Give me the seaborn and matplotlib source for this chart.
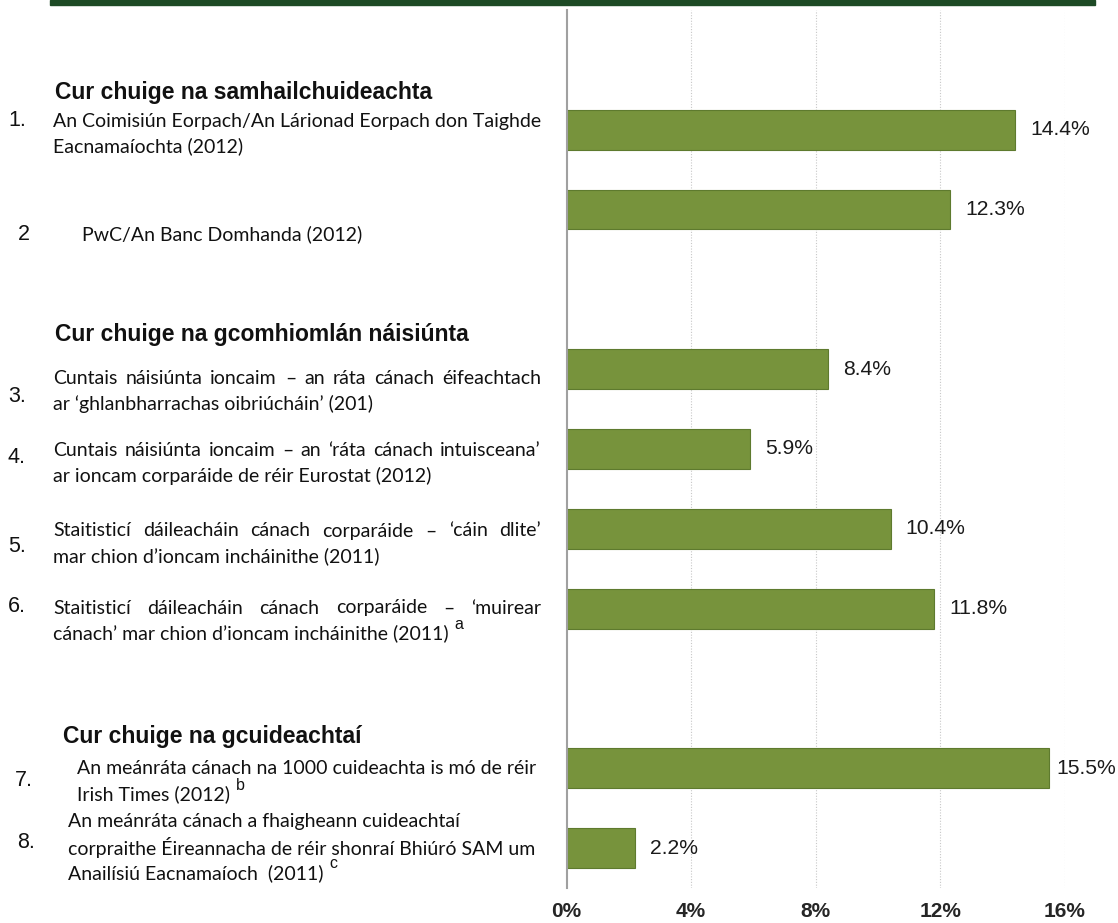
import matplotlib
matplotlib.use('Agg')
import matplotlib.pyplot as plt
import seaborn as sns
import pandas as pd
from matplotlib.patches import Rectangle

# data
slots = ['gap0', 'r1', 'r2', 'gap1', 'r3', 'r4', 'r5', 'r6', 'gap2', 'r7', 'r8']
bar_slots = ['r1', 'r2', 'r3', 'r4', 'r5', 'r6', 'r7', 'r8']
rates = [14.4, 12.3, 8.4, 5.9, 10.4, 11.8, 15.5, 2.2]
numbers = ['1.', '2', '3.', '4.', '5.', '6.', '7.', '8.']
item_lines = [
    ['An Coimisiún Eorpach/An Lárionad Eorpach don Taighde', 'Eacnamaíochta (2012)'],
    ['PwC/An Banc Domhanda (2012)'],
    ['Cuntais náisiúnta ioncaim – an ráta cánach éifeachtach', 'ar ‘ghlanbharrachas oibriúcháin’ (201)'],
    ['Cuntais náisiúnta ioncaim – an ‘ráta cánach intuisceana’', 'ar ioncam corparáide de réir Eurostat (2012)'],
    ['Staitisticí dáileacháin cánach corparáide – ‘cáin dlite’', 'mar chion d’ioncam incháinithe (2011)'],
    ['Staitisticí dáileacháin cánach corparáide – ‘muirear', 'cánach’ mar chion d’ioncam incháinithe (2011)'],
    ['An meánráta cánach na 1000 cuideachta is mó de réir', 'Irish Times (2012)'],
    ['An meánráta cánach a fhaigheann cuideachtaí',
     'corpraithe Éireannacha de réir shonraí Bhiúró SAM um', 'Anailísiú Eacnamaíoch  (2011)'],
]
footnotes = ['', '', '', '', '', 'a', 'b', 'c']
headings = ['Cur chuige na samhailchuideachta', 'Cur chuige na gcomhiomlán náisiúnta',
            'Cur chuige na gcuideachtaí']
ticks = [0, 4, 8, 12, 16]

# layout (pixels in the 1118x923 picture)
W, H = 1118, 923
heading_pos = [(55, 93), (55, 335), (63, 737)]
number_pos = [(8, 120), (18, 234), (8, 397), (8, 458), (8, 547), (8, 607), (15, 780), (17, 843)]
item_pos = [(53, 121), (82, 234), (53, 378), (53, 450), (53, 531), (53, 608), (77, 769), (68, 822)]
justify = {2, 3, 4, 5}
text_right = 541
line_gap = 25.5


def fx(px):
    return px / W


def fy(py):
    return 1 - py / H


sns.set_style('white')
plt.rcParams['font.family'] = ['Liberation Sans', 'DejaVu Sans']

fig = plt.figure(figsize=(11.18, 9.23), dpi=100)
ax = fig.add_axes([fx(566.5), fy(888), fx(1065 - 566.5), (888 - 10) / H])

df = pd.DataFrame({'slot': bar_slots, 'rate': rates})
sns.barplot(data=df, x='rate', y='slot', order=slots, orient='h', color='#77933C',
            saturation=1, width=0.5, edgecolor='#5E7A2E', linewidth=0.8, ax=ax)
vals = ax.bar_label(ax.containers[0], fmt='%.1f%%', padding=11, fontsize=15.2, color='#1a1a1a')
for lab, v in zip(vals, rates):
    if v > 15:
        lab.xyann = (5, 0)

ax.set_xlim(0, 16)
ax.set_ylim(len(slots) - 0.5, -0.5)
ax.set_xticks(ticks)
ax.set_xticklabels([f'{t}%' for t in ticks], fontsize=15, fontweight='bold')
ax.tick_params(axis='x', length=0, pad=10)
ax.set_yticks([])
ax.set_xlabel('')
ax.set_ylabel('')
for t in ticks[1:]:
    ax.axvline(t, color='#c8c8c8', linestyle=(0, (1, 1.5)), linewidth=0.8, zorder=0)
for s in ['top', 'right', 'bottom']:
    ax.spines[s].set_visible(False)
ax.spines['left'].set_color('#a0a0a0')
ax.spines['left'].set_linewidth(1.5)

# dark green band on top
fig.patches.append(Rectangle((fx(50), fy(5)), fx(1045), 5 / H, transform=fig.transFigure,
                             color='#1D4A25', zorder=5))

for txt, (x, y) in zip(headings, heading_pos):
    fig.text(fx(x), fy(y), txt, fontsize=16.5, fontweight='bold', va='center', color='#111111')

for num, (x, y) in zip(numbers, number_pos):
    fig.text(fx(x), fy(y), num, fontsize=15.5, va='center', color='#111111')

label_font = dict(family=['Lato', 'DejaVu Sans'], fontsize=14, color='#111111', va='center')
renderer = fig.canvas.get_renderer()
for i, lines in enumerate(item_lines):
    x0, y0 = item_pos[i]
    last = None
    for k, line in enumerate(lines):
        y = y0 + k * line_gap
        if i in justify and k == 0:
            words = line.split(' ')
            texts = [fig.text(0, fy(y), w, **label_font) for w in words]
            widths = [t.get_window_extent(renderer).width for t in texts]
            gap = max((text_right - x0 - sum(widths)) / (len(words) - 1), 3)
            xx = x0
            for t, w in zip(texts, widths):
                t.set_x(fx(xx))
                xx += w + gap
        else:
            last = fig.text(fx(x0), fy(y), line, **label_font)
    if footnotes[i] and last is not None:
        bb = last.get_window_extent(renderer)
        fig.text(fx(bb.x1 + 6), fy(y0 + (len(lines) - 1) * line_gap - 9), footnotes[i],
                 fontsize=11.5, va='center', color='#111111')

fig.savefig('out.png', dpi=100)
